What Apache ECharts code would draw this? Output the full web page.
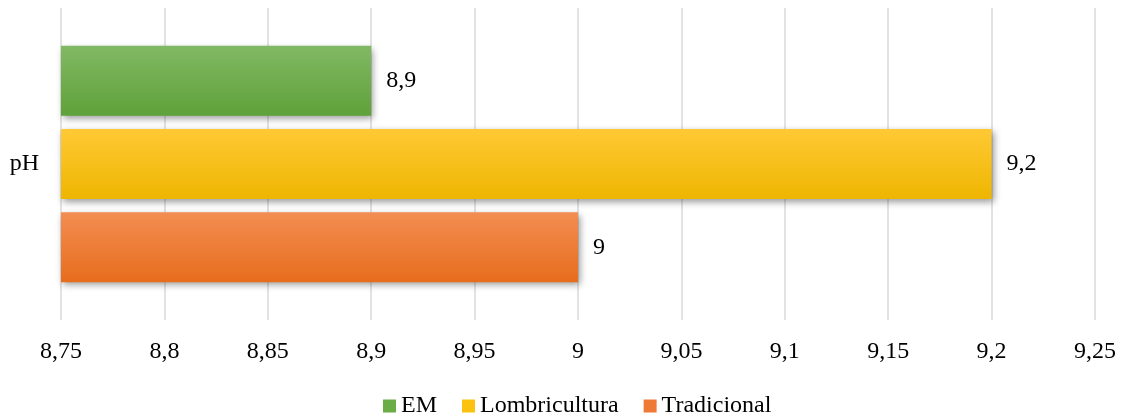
<!DOCTYPE html>
<html>
<head>
<meta charset="utf-8">
<script src="https://cdn.jsdelivr.net/npm/echarts@6/dist/echarts.min.js"></script>
<style>
  html, body { margin: 0; padding: 0; background: #fff; }
  #chart { width: 1122px; height: 415px; }
</style>
</head>
<body>
<div id="chart"></div>
<script>
// pH by production method
const categories = ['pH'];
const seriesNames = ['EM', 'Lombricultura', 'Tradicional'];
const emValues = [8.9];
const lombriculturaValues = [9.2];
const tradicionalValues = [9.0];

const FONT = '"Liberation Serif", "Times New Roman", serif';
const FONT_SIZE = 24;

function gradient(top, bottom) {
  return new echarts.graphic.LinearGradient(0, 0, 0, 1, [
    { offset: 0, color: top },
    { offset: 1, color: bottom }
  ]);
}

const styles = [
  { top: '#82b964', bottom: '#5fa13a', legend: '#6aad47' },
  { top: '#ffc935', bottom: '#eeb600', legend: '#fbc20f' },
  { top: '#f38d52', bottom: '#e76d1d', legend: '#ef7a35' }
];

const fmt = v => String(+(+v).toFixed(2)).replace('.', ',');

const dataSets = [emValues, lombriculturaValues, tradicionalValues];

const series = seriesNames.map((name, i) => ({
  name: name,
  type: 'bar',
  data: dataSets[i],
  barWidth: 70,
  barGap: '19%',
  itemStyle: {
    color: gradient(styles[i].top, styles[i].bottom),
    shadowColor: 'rgba(0,0,0,0.4)',
    shadowBlur: 7,
    shadowOffsetX: 2,
    shadowOffsetY: 3
  },
  label: {
    show: true,
    position: 'right',
    distance: 15,
    formatter: p => fmt(p.value),
    fontFamily: FONT,
    fontSize: FONT_SIZE,
    color: '#000'
  }
}));

const chart = echarts.init(document.getElementById('chart'), null, { renderer: 'canvas' });
chart.setOption({
  animation: false,
  backgroundColor: '#fff',
  grid: { left: 61, right: 27, top: 8, bottom: 95, containLabel: false },
  legend: {
    top: 389,
    left: 378,
    itemWidth: 13,
    itemHeight: 13,
    itemGap: 25,
    icon: 'rect',
    textStyle: { fontFamily: FONT, fontSize: FONT_SIZE, color: '#000' },
    data: seriesNames.map((n, i) => ({ name: n, itemStyle: { color: styles[i].legend } }))
  },
  xAxis: {
    type: 'value',
    min: 8.75,
    max: 9.25,
    interval: 0.05,
    axisLine: { show: false },
    axisTick: { show: false },
    splitLine: { show: true, lineStyle: { color: '#d9d9d9', width: 1.5 } },
    axisLabel: {
      formatter: fmt,
      fontFamily: FONT,
      fontSize: FONT_SIZE,
      color: '#000',
      margin: 20
    }
  },
  yAxis: {
    type: 'category',
    data: categories,
    axisLine: { show: false },
    axisTick: { show: false },
    axisLabel: { fontFamily: FONT, fontSize: FONT_SIZE, color: '#000', margin: 22 }
  },
  series: series
});
</script>
</body>
</html>
